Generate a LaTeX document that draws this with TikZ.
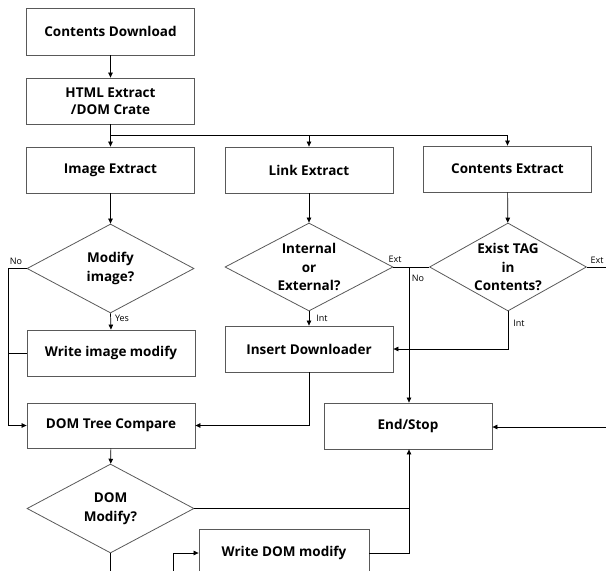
\documentclass[tikz,border=0pt]{standalone}
\usepackage{fontspec}
\setmainfont{Open Sans}
\usetikzlibrary{shapes.geometric,arrows.meta}
\begin{document}
\begin{tikzpicture}[x=1pt,y=-1pt,
  box/.style={draw=black!65,line width=0.8pt,rectangle,minimum width=168pt,minimum height=46pt,inner sep=0pt,align=center,font=\fontsize{13.5}{17.5}\selectfont\bfseries},
  dia/.style={draw=black!65,line width=0.8pt,diamond,aspect=1.9,inner sep=-14pt,align=center,font=\fontsize{13.5}{18.5}\selectfont\bfseries},
  conn/.style={draw=black,line width=0.7pt},
  arr/.style={conn,-{Triangle[length=5pt,width=4.5pt]}},
  lab/.style={font=\fontsize{9}{10}\selectfont,inner sep=0pt}]
\useasboundingbox (0,0) rectangle (606,571);
\clip (0,0) rectangle (606,571);
% nodes
\node[box,minimum height=47pt] (cd) at (110.5,31.5) {Contents Download};
\node[box] (html) at (110.5,101) {HTML Extract\\/DOM Crate};
\node[box] (img) at (110.5,170) {Image Extract};
\node[box] (link) at (309,170) {Link Extract};
\node[box] (cont) at (507.5,169) {Contents Extract};
\node[dia,minimum width=167pt,minimum height=89pt] (dmi) at (110.5,268.5) {Modify\\image?};
\node[dia,minimum width=168pt,minimum height=88pt] (dlink) at (309,267) {Internal\\or\\External?};
\node[dia,minimum width=157pt,minimum height=88pt] (dtag) at (508,267) {Exist TAG\\in\\Contents?};
\node[box] (wim) at (111,353) {Write image modify};
\node[box] (ins) at (309,349) {Insert Downloader};
\node[box,minimum height=45pt] (dom) at (111,425.5) {DOM Tree Compare};
\node[box] (end) at (408,426) {End/Stop};
\node[dia,minimum width=167pt,minimum height=89pt] (ddom) at (110.5,508.5) {DOM\\Modify?};
\node[box,minimum width=170pt,minimum height=48pt] (wdom) at (284,553) {Write DOM modify};
% free coordinates
\coordinate (br) at (110.5,135);
\coordinate (nol) at (8,268.5);
\coordinate (jx) at (409,267);
\coordinate (rt) at (606,267);
\coordinate (rin) at (606,427);
\coordinate (bot1) at (110.5,571);
\coordinate (bot2) at (173,571);
% connectors
\draw[arr] (cd) -- (html);
\draw[conn] (html.south) -- (br);
\draw[arr] (br) -- (img.north);
\draw[arr] (br) -| (cont.north);
\draw[arr] (link.north |- br) -- (link.north);
\draw[arr] (img) -- (dmi);
\draw[arr] (link) -- (dlink);
\draw[arr] (cont) -- (dtag);
\draw[arr] (dmi.west) -- (nol) |- (dom.west);
\draw[conn] (wim.west) -- (nol |- wim.west);
\draw[arr] (dmi.south) -- (wim.north);
\draw[conn] (dlink.east) -- (dtag.west);
\draw[arr] (jx) -- (jx |- end.north);
\draw[conn] (dtag.east) -- (rt);
\draw[arr] (dtag.south) |- (ins.east);
\draw[arr] (dlink.south) -- (ins.north);
\draw[arr] (ins.south) |- (dom.east);
\draw[arr] (dom) -- (ddom);
\draw[arr] (wdom.east) -| (jx |- end.south);
\draw[conn] (ddom.east) -- (jx |- ddom.east);
\draw[arr] (rin) -- (end.east |- rin);
\draw[conn] (ddom.south) -- (bot1);
\draw[arr] (bot2) |- (wdom.west);
% labels
\node[lab] (lno1) at (16,261) {No};
\node[lab] (lyes) at (122,318) {Yes};
\node[lab] (lext1) at (395,259) {Ext};
\node[lab] (lno2) at (418,278) {No};
\node[lab] (lext2) at (597,260) {Ext};
\node[lab] (lint1) at (322,318) {Int};
\node[lab] (lint2) at (519,323) {Int};
\end{tikzpicture}
\end{document}
